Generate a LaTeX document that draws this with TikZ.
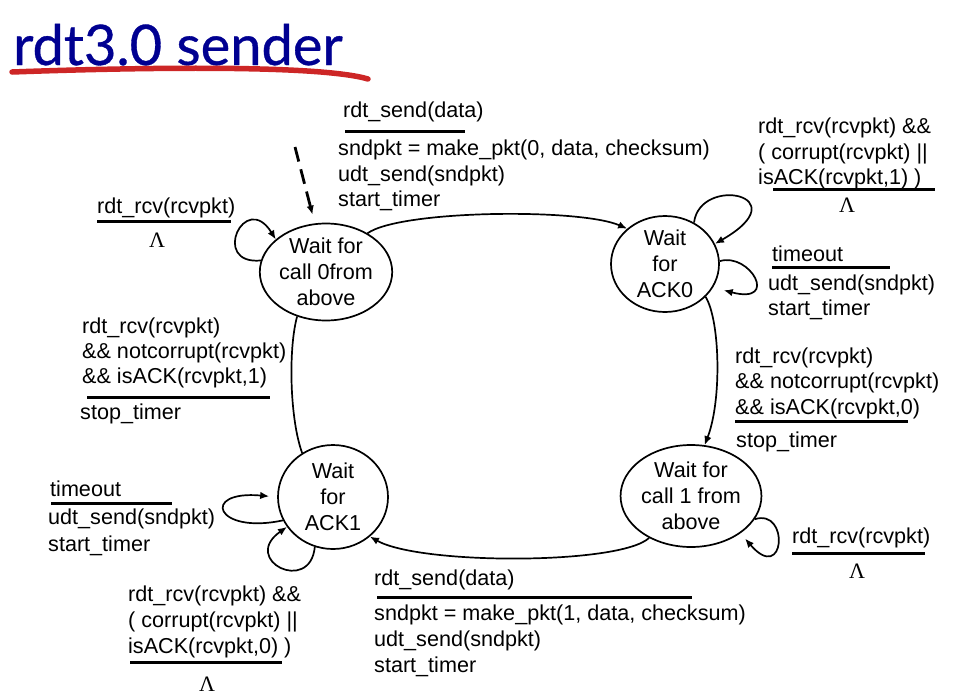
\documentclass[tikz,border=0pt]{standalone}
\usepackage{fontspec}
\setmainfont{Liberation Sans}
\newfontfamily\titlefamily[FakeBold=0.6]{Lato}
\newfontfamily\greekserif{Liberation Serif}
\usetikzlibrary{arrows.meta,shapes.geometric}
\definecolor{titleblue}{RGB}{0,0,145}
\definecolor{penred}{RGB}{205,38,38}
\newcommand\lblsize{\fontsize{21.6}{25.8}\selectfont}
\newcommand\lamsize{\greekserif\fontsize{22}{24}\selectfont}
\newcommand\headsize{\titlefamily\fontsize{56}{62}\selectfont}

\begin{document}
\begin{tikzpicture}[x=1pt,y=-1pt,
  txt/.style={font=\lblsize, inner sep=0pt, anchor=base west},
  lam/.style={font=\lamsize, inner sep=0pt},
  state/.style={draw, ellipse, line width=1.7pt, inner sep=0pt, align=center, font=\lblsize},
  tip/.style={-{Latex[length=9pt,width=7.5pt]}},
  trans/.style={line width=1.7pt, tip},
  plain/.style={line width=1.7pt},
  rule/.style={line width=3pt},
]
\useasboundingbox (0,0) rectangle (966,699);

% heading with hand-drawn underline
\node[font=\headsize, text=titleblue, inner sep=0pt, anchor=base west] (title) at (13,65) {rdt3.0 sender};
\draw[penred, line width=5.5pt, line cap=round] (12,72) .. controls (150,67) and (320,65) .. (368,79);

% states
\node[state, minimum width=116pt, minimum height=97pt] (s0) at (326,272) {Wait for\\call 0from\\above};
\node[state, minimum width=108pt, minimum height=96pt] (s1) at (665,264) {Wait\\for\\ACK0};
\node[state, minimum width=110pt, minimum height=102pt] (s2) at (691,496) {Wait for\\call 1 from\\above};
\node[state, minimum width=110pt, minimum height=104pt] (s3) at (333,497) {Wait\\for\\ACK1};

% initial transition
\coordinate (init) at (295,147);
\draw[line width=2.8pt, dash pattern=on 15pt off 8pt, tip, shorten >=9pt] (init) -- (s0.103);

% transitions between states
\draw[trans] (s0.43) .. controls (400,210) and (580,208) .. (s1.137);
\draw[trans] (s1.-39) .. controls (720,320) and (722,400) .. (s2.75);
\draw[trans] (s2.-135) .. controls (620,565) and (420,565) .. (s3.-47);
\draw[plain] (s3.125) .. controls (290,420) and (288,350) .. (s0.-123);

% self loops
\draw[trans] (s0.170) .. controls (210,265) and (245,190) .. (s0.147);
\draw[trans] (s1.55) .. controls (700,175) and (800,195) .. (s1.22);
\draw[trans, shorten >=11pt] (s1.3) .. controls (750,252) and (780,305) .. (s1.-26);
\draw[trans, shorten >=7pt] (s2.-20) .. controls (790,508) and (785,585) .. (s2.-37);
\draw[trans, shorten >=8pt] (s3.205) .. controls (215,535) and (200,490) .. (s3.180);
\draw[trans] (s3.250) .. controls (310,595) and (240,560) .. (s3.213);

% wait for call 0 -> wait for ACK0
\node[txt] (a0) at (343,117) {rdt\_send(data)};
\draw[rule] (345,131) -- (465,131);
\node[txt] (a1) at (338,155) {sndpkt = make\_pkt(0, data, checksum)};
\node[txt] (a2) at (338,181) {udt\_send(sndpkt)};
\node[txt] (a3) at (338,206) {start\_timer};

% loop on wait for call 0
\node[txt] (b0) at (97,213) {rdt\_rcv(rcvpkt)};
\draw[rule] (97,221) -- (231,221);
\node[lam] (b1) at (157,240) {Λ};

% loop on wait for ACK0 (bad ack)
\node[txt] (c0) at (758,133) {rdt\_rcv(rcvpkt) \&\&};
\node[txt] (c1) at (758,159) {( corrupt(rcvpkt) ||};
\node[txt] (c2) at (758,184) {isACK(rcvpkt,1) )};
\draw[rule] (773,189) -- (935,189);
\node[lam] (c3) at (847,205) {Λ};

% timeout on wait for ACK0
\node[txt] (d0) at (772,261) {timeout};
\draw[rule] (772,267) -- (890,267);
\node[txt] (d1) at (768,290) {udt\_send(sndpkt)};
\node[txt] (d2) at (768,315) {start\_timer};

% wait for ACK0 -> wait for call 1
\node[txt] (e0) at (735,363) {rdt\_rcv(rcvpkt)};
\node[txt] (e1) at (735,388) {\&\& notcorrupt(rcvpkt)};
\node[txt] (e2) at (735,414) {\&\& isACK(rcvpkt,0)};
\draw[rule] (735,421) -- (908,421);
\node[txt] (e3) at (736,447) {stop\_timer};

% loop on wait for call 1
\node[txt] (f0) at (792,543) {rdt\_rcv(rcvpkt)};
\draw[rule] (792,553) -- (925,553);
\node[lam] (f1) at (857,571) {Λ};

% wait for call 1 -> wait for ACK1
\node[txt] (g0) at (374,585) {rdt\_send(data)};
\draw[rule] (377,597) -- (692,597);
\node[txt] (g1) at (374,620) {sndpkt = make\_pkt(1, data, checksum)};
\node[txt] (g2) at (374,646) {udt\_send(sndpkt)};
\node[txt] (g3) at (374,672) {start\_timer};

% loop on wait for ACK1 (bad ack)
\node[txt] (h0) at (128,601) {rdt\_rcv(rcvpkt) \&\&};
\node[txt] (h1) at (128,627) {( corrupt(rcvpkt) ||};
\node[txt] (h2) at (128,653) {isACK(rcvpkt,0) )};
\draw[rule] (130,662) -- (282,662);
\node[lam] (h3) at (207,684) {Λ};

% timeout on wait for ACK1
\node[txt] (i0) at (50,496) {timeout};
\draw[rule] (51,503) -- (172,503);
\node[txt] (i1) at (48,524) {udt\_send(sndpkt)};
\node[txt] (i2) at (48,551) {start\_timer};

% wait for ACK1 -> wait for call 0
\node[txt] (j0) at (82,333) {rdt\_rcv(rcvpkt)};
\node[txt] (j1) at (82,358) {\&\& notcorrupt(rcvpkt)};
\node[txt] (j2) at (82,383) {\&\& isACK(rcvpkt,1)};
\draw[rule] (87,397) -- (270,397);
\node[txt] (j3) at (80,419) {stop\_timer};
\end{tikzpicture}
\end{document}
